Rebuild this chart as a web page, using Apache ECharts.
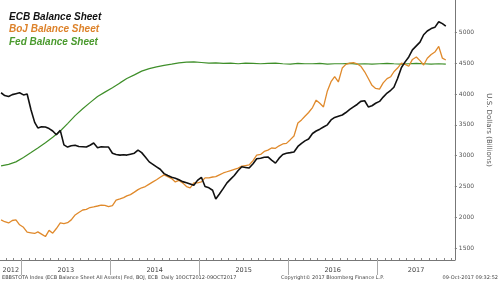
<!DOCTYPE html>
<html><head><meta charset="utf-8">
<script src="https://cdn.jsdelivr.net/npm/echarts@6/dist/echarts.min.js"></script>
<style>html,body{margin:0;padding:0;background:#fff}#c{width:500px;height:282px}</style>
</head><body><div id="c"></div>
<script>
// ECB and BoJ: twice-monthly observations (10th and 25th), Oct 2012 .. Oct 2017, USD billions
const seriesNames = ['ECB Balance Sheet', 'BoJ Balance Sheet', 'Fed Balance Sheet'];
const ecb = [4020,3975,3960,3990,4005,4020,3985,4000,3740,3540,3450,3470,3465,3440,3400,3340,3410,3175,3140,3160,
  3170,3150,3145,3140,3170,3205,3130,3145,3140,3140,3040,3020,3010,3015,3010,3025,3040,3090,3050,2980,
  2900,2860,2820,2780,2710,2680,2650,2635,2610,2580,2560,2540,2520,2600,2650,2500,2480,2440,2300,2380,
  2470,2560,2620,2680,2760,2820,2810,2800,2870,2950,2960,2975,2980,2930,2880,2960,3020,3040,3050,3060,
  3150,3200,3240,3270,3360,3400,3430,3465,3500,3580,3620,3640,3660,3700,3750,3790,3830,3880,3890,3790,
  3810,3850,3880,3950,4015,4060,4110,4250,4430,4520,4600,4715,4780,4840,4960,5020,5060,5080,5170,5140,5100];
const boj = [1960,1930,1910,1950,1960,1880,1840,1760,1750,1740,1765,1730,1690,1790,1745,1820,1910,1900,1915,1960,
  2040,2080,2120,2130,2160,2170,2185,2200,2195,2175,2190,2280,2300,2320,2350,2370,2410,2450,2480,2500,
  2540,2575,2610,2650,2690,2660,2630,2575,2600,2560,2500,2480,2560,2560,2575,2640,2640,2655,2660,2690,
  2720,2740,2760,2780,2800,2830,2840,2850,2920,3010,3020,3070,3090,3125,3120,3160,3190,3200,3260,3320,
  3530,3580,3640,3700,3780,3900,3850,3790,4050,4200,4280,4195,4420,4480,4500,4510,4490,4450,4360,4250,
  4140,4090,4080,4180,4250,4280,4360,4420,4500,4480,4450,4560,4600,4540,4470,4580,4640,4680,4770,4580,4550];
// Fed: monthly observations (10th), Oct 2012 .. Oct 2017
const fed = [2835,2860,2900,2970,3050,3125,3210,3300,3400,3520,3650,3760,3860,3960,4030,4100,4180,4250,4310,4370,
  4410,4440,4465,4485,4505,4515,4520,4510,4500,4505,4495,4500,4490,4500,4495,4490,4495,4500,4490,4485,
  4495,4490,4490,4495,4485,4490,4490,4495,4485,4490,4485,4490,4495,4490,4485,4490,4495,4490,4485,4490,4485];
const yTickLabels = [1500,2000,2500,3000,3500,4000,4500,5000];
const yearLabels = [2012,2013,2014,2015,2016,2017];

const halfDates = ecb.map((_, h) => h === ecb.length - 1 ? Date.UTC(2017, 9, 9) : Date.UTC(2012, 9 + Math.floor(h / 2), h % 2 ? 25 : 10));
const monthDates = fed.map((_, m) => m === fed.length - 1 ? Date.UTC(2017, 9, 9) : Date.UTC(2012, 9 + m, 10));
const xMin = Date.UTC(2012, 9, 7), xMax = Date.UTC(2017, 10, 15);
const monthTicks = [];
for (let m = 1; m <= 61; m++) { const t = Date.UTC(2012, 9 + m, 1); if (t < xMax) monthTicks.push(t); }
const yearTicks = yearLabels.slice(1).map(y => Date.UTC(y, 0, 1));
const yearMid = yearLabels.map(y => {
  const a = Math.max(xMin, Date.UTC(y, 0, 1)), b = Math.min(xMax, Date.UTC(y + 1, 0, 1));
  return (a + b) / 2;
});
const pair = (d, arr) => arr.map((v, i) => [d[i], v]);

const colors = ['#111111', '#e08a2c', '#3f8f2a'];
const legendColors = ['#111111', '#dd822a', '#4a9a2e'];
const chart = echarts.init(document.getElementById('c'), null, {renderer: 'canvas'});
chart.setOption({
  animation: false,
  backgroundColor: '#ffffff',
  grid: {left: 0, right: 25, top: 0, bottom: 22, containLabel: false},
  legend: {
    orient: 'vertical', left: -1, top: 7, itemGap: 2.5, itemWidth: 0, itemHeight: 0, icon: 'none',
    data: seriesNames.map((n, i) => ({name: n, textStyle: {color: legendColors[i]}})),
    textStyle: {fontFamily: 'Liberation Sans', fontWeight: 'bold', fontStyle: 'italic', fontSize: 10, padding: 0}
  },
  xAxis: [{
    type: 'value', min: xMin, max: xMax,
    axisLine: {show: true, lineStyle: {color: '#777', width: 1}},
    axisTick: {show: true, inside: true, length: 2, customValues: monthTicks, lineStyle: {color: '#888'}},
    axisLabel: {show: false}, splitLine: {show: false}
  }, {
    type: 'value', min: xMin, max: xMax, position: 'bottom',
    axisLine: {show: false},
    axisTick: {show: true, inside: false, length: 15, customValues: yearTicks, lineStyle: {color: '#aaa'}},
    axisLabel: {show: true, customValues: yearMid, margin: 7, fontSize: 6.5, color: '#444', fontFamily: 'DejaVu Sans',
      formatter: v => String(new Date(v).getUTCFullYear())},
    splitLine: {show: false}
  }],
  yAxis: {
    type: 'value', position: 'right', min: 1310, max: 5523,
    name: 'U.S. Dollars (Billions)', nameLocation: 'middle', nameGap: 23, nameRotate: -90,
    nameTextStyle: {fontSize: 7, color: '#555', fontFamily: 'DejaVu Sans'},
    axisLine: {show: true, lineStyle: {color: '#777', width: 1}},
    axisTick: {show: true, inside: false, length: 2, customValues: yTickLabels, lineStyle: {color: '#777'}},
    axisLabel: {customValues: yTickLabels, margin: 4, fontSize: 6, color: '#555', fontFamily: 'DejaVu Sans',
      formatter: v => String(v)},
    splitLine: {show: false}
  },
  series: [
    {name: seriesNames[2], type: 'line', data: pair(monthDates, fed), showSymbol: false, lineStyle: {color: colors[2], width: 1.2}, itemStyle: {color: colors[2]}, z: 2},
    {name: seriesNames[1], type: 'line', data: pair(halfDates, boj), showSymbol: false, lineStyle: {color: colors[1], width: 1.3}, itemStyle: {color: colors[1]}, z: 3},
    {name: seriesNames[0], type: 'line', data: pair(halfDates, ecb), showSymbol: false, lineStyle: {color: colors[0], width: 1.6}, itemStyle: {color: colors[0]}, z: 4}
  ],
  graphic: [
    {type: 'text', left: 2, top: 275, style: {text: 'EBBSTOTA Index (ECB Balance Sheet All Assets) Fed, BOJ, ECB  Daily 10OCT2012-09OCT2017', fontSize: 5, fill: '#444', fontFamily: 'DejaVu Sans'}},
    {type: 'text', left: 281, top: 275, style: {text: 'Copyright\u00a9 2017 Bloomberg Finance L.P.', fontSize: 5, fill: '#444', fontFamily: 'DejaVu Sans'}},
    {type: 'text', right: 2, top: 275, style: {text: '09-Oct-2017 09:32:52', fontSize: 5, fill: '#444', fontFamily: 'DejaVu Sans'}}
  ]
});
</script></body></html>
